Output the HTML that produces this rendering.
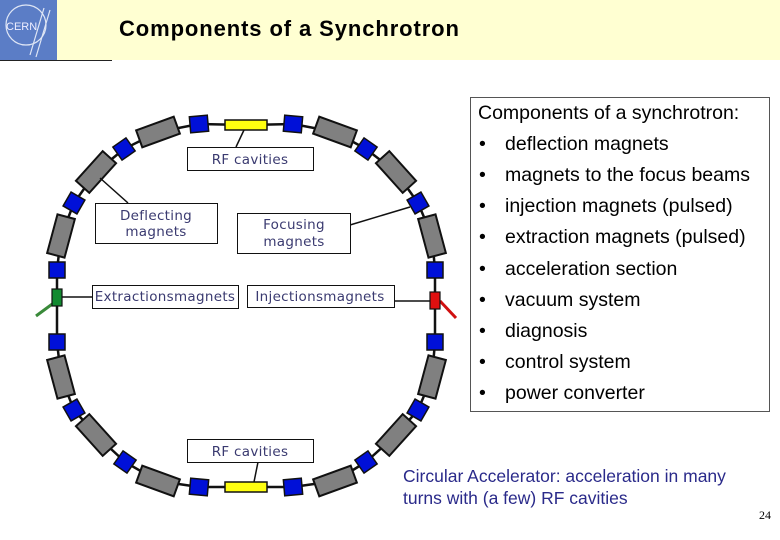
<!DOCTYPE html>
<html><head><meta charset="utf-8"><style>
body{margin:0;width:780px;height:540px;background:#fff;overflow:hidden;position:relative;font-family:"Liberation Sans",sans-serif}
.hdr{position:absolute;left:57px;top:0;width:723px;height:60px;background:#ffffd2}
.logo{position:absolute;left:0;top:0;width:57px;height:60px;background:#5b7dc6}
.ul{position:absolute;left:0;top:60px;width:112px;height:1px;background:#222}
.title{position:absolute;left:119px;top:16px;font-size:22px;font-weight:bold;letter-spacing:0.9px;color:#000}
.box{position:absolute;left:470px;top:97px;width:298px;height:313px;border:1px solid #555}
.t{position:absolute;font-size:19.5px;color:#000;white-space:nowrap}
.cap{position:absolute;left:403px;font-size:17.5px;color:#2a2a8a;white-space:nowrap}
</style></head><body>
<div class="hdr"></div>
<div class="logo"><svg width="57" height="60"><ellipse cx="26" cy="25" rx="20" ry="20" fill="none" stroke="#dfe6f5" stroke-width="1.2"/><path d="M44 8 L30 55 M50 10 L36 57" stroke="#dfe6f5" stroke-width="1.2" fill="none"/><text x="6" y="30" font-size="11" fill="#eef" font-family="Liberation Sans">CERN</text></svg></div>
<div class="ul"></div>
<div class="title">Components of a Synchrotron</div>

<svg style="position:absolute;left:0;top:0" width="470" height="540">
<polygon points="246,125 293,124 335,132 366,149 396,172 418,203 432,236 435,270 435,301 435,342 432,377 418,410 396,435 366,462 335,481 293,487 246,487 199,487 158,481 125,462 96,435 74,410 61,377 57,342 57,297 57,270 61,236 74,203 96,172 124,149 158,132 199,124" fill="none" stroke="#111" stroke-width="2.5" stroke-linejoin="round"/>
<g fill="#808080" stroke="#111" stroke-width="2">
<rect x="-20" y="-9" width="40" height="18" transform="translate(158,132) rotate(-20)"/>
<rect x="-20" y="-9" width="40" height="18" transform="translate(96,172) rotate(-48)"/>
<rect x="-20" y="-9" width="40" height="18" transform="translate(61,236) rotate(-75)"/>
<rect x="-20" y="-9" width="40" height="18" transform="translate(61,377) rotate(75)"/>
<rect x="-20" y="-9" width="40" height="18" transform="translate(96,435) rotate(48)"/>
<rect x="-20" y="-9" width="40" height="18" transform="translate(158,481) rotate(20)"/>
<rect x="-20" y="-9" width="40" height="18" transform="translate(335,132) rotate(20)"/>
<rect x="-20" y="-9" width="40" height="18" transform="translate(396,172) rotate(48)"/>
<rect x="-20" y="-9" width="40" height="18" transform="translate(432,236) rotate(75)"/>
<rect x="-20" y="-9" width="40" height="18" transform="translate(432,377) rotate(-75)"/>
<rect x="-20" y="-9" width="40" height="18" transform="translate(396,435) rotate(-48)"/>
<rect x="-20" y="-9" width="40" height="18" transform="translate(335,481) rotate(-20)"/>
</g>
<g fill="#0010d8" stroke="#111" stroke-width="1.5">
<rect x="-9" y="-8" width="18" height="16" transform="translate(199,124) rotate(-5)"/>
<rect x="-9" y="-8" width="18" height="16" transform="translate(293,124) rotate(5)"/>
<rect x="-8" y="-8" width="16" height="16" transform="translate(124,149) rotate(-35)"/>
<rect x="-8" y="-8" width="16" height="16" transform="translate(366,149) rotate(35)"/>
<rect x="-8" y="-8" width="16" height="16" transform="translate(74,203) rotate(-60)"/>
<rect x="-8" y="-8" width="16" height="16" transform="translate(418,203) rotate(60)"/>
<rect x="-8" y="-8" width="16" height="16" transform="translate(57,270)"/>
<rect x="-8" y="-8" width="16" height="16" transform="translate(57,342)"/>
<rect x="-8" y="-8" width="16" height="16" transform="translate(435,270)"/>
<rect x="-8" y="-8" width="16" height="16" transform="translate(435,342)"/>
<rect x="-8" y="-8" width="16" height="16" transform="translate(74,410) rotate(60)"/>
<rect x="-8" y="-8" width="16" height="16" transform="translate(418,410) rotate(-60)"/>
<rect x="-8" y="-8" width="16" height="16" transform="translate(125,462) rotate(35)"/>
<rect x="-8" y="-8" width="16" height="16" transform="translate(366,462) rotate(-35)"/>
<rect x="-9" y="-8" width="18" height="16" transform="translate(199,487) rotate(5)"/>
<rect x="-9" y="-8" width="18" height="16" transform="translate(293,487) rotate(-5)"/>
</g>
<rect x="225" y="120" width="42" height="10" fill="#ffff10" stroke="#111" stroke-width="1.5"/>
<rect x="225" y="482" width="42" height="10" fill="#ffff10" stroke="#111" stroke-width="1.5"/>
<path d="M55 302 L36 316" stroke="#3a8a3a" stroke-width="3"/>
<rect x="52" y="289" width="10" height="17" fill="#118a30" stroke="#111" stroke-width="1.2"/>
<path d="M440 301 L456 318" stroke="#d01010" stroke-width="3"/>
<rect x="430" y="292" width="10" height="17" fill="#e01010" stroke="#111" stroke-width="1.2"/>
<g stroke="#111" stroke-width="1.5">
<line x1="244" y1="130" x2="236" y2="147"/>
<line x1="100" y1="178" x2="128" y2="203"/>
<line x1="350" y1="225" x2="410" y2="207"/>
<line x1="62" y1="297" x2="92" y2="297"/>
<line x1="394" y1="301" x2="430" y2="301"/>
<line x1="258" y1="462" x2="254" y2="482"/>
</g>
<g fill="#fff" stroke="#111" stroke-width="1">
<rect x="187.5" y="147.5" width="126" height="23"/>
<rect x="95.5" y="203.5" width="122" height="40"/>
<rect x="237.5" y="213.5" width="113" height="40"/>
<rect x="92.5" y="285.5" width="146" height="23"/>
<rect x="247.5" y="285.5" width="147" height="22"/>
<rect x="187.5" y="439.5" width="126" height="23"/>
</g>
<g font-family="DejaVu Sans,sans-serif" font-size="13.5" letter-spacing="0.3" fill="#3a3a70" text-anchor="middle">
<text x="250" y="164">RF cavities</text>
<text x="156" y="220">Deflecting</text>
<text x="156" y="236">magnets</text>
<text x="294" y="229">Focusing</text>
<text x="294" y="246">magnets</text>
<text x="165" y="301">Extractionsmagnets</text>
<text x="320" y="301">Injectionsmagnets</text>
<text x="250" y="456">RF cavities</text>
</g>
</svg>

<div class="box"></div>
<div class="t" style="left:478px;top:102px">Components of a synchrotron:</div>
<div class="t" style="left:479px;top:133px">•</div><div class="t" style="left:505px;top:133px">deflection magnets</div>
<div class="t" style="left:479px;top:164px">•</div><div class="t" style="left:505px;top:164px">magnets to the focus beams</div>
<div class="t" style="left:479px;top:195px">•</div><div class="t" style="left:505px;top:195px">injection magnets (pulsed)</div>
<div class="t" style="left:479px;top:226px">•</div><div class="t" style="left:505px;top:226px">extraction magnets (pulsed)</div>
<div class="t" style="left:479px;top:258px">•</div><div class="t" style="left:505px;top:258px">acceleration section</div>
<div class="t" style="left:479px;top:289px">•</div><div class="t" style="left:505px;top:289px">vacuum system</div>
<div class="t" style="left:479px;top:320px">•</div><div class="t" style="left:505px;top:320px">diagnosis</div>
<div class="t" style="left:479px;top:351px">•</div><div class="t" style="left:505px;top:351px">control system</div>
<div class="t" style="left:479px;top:382px">•</div><div class="t" style="left:505px;top:382px">power converter</div>

<div class="cap" style="top:466px">Circular Accelerator: acceleration in many</div>
<div class="cap" style="top:488px">turns with (a few) RF cavities</div>
<div style="position:absolute;left:759px;top:508px;font-size:12px;font-family:'Liberation Serif',serif">24</div>
</body></html>
